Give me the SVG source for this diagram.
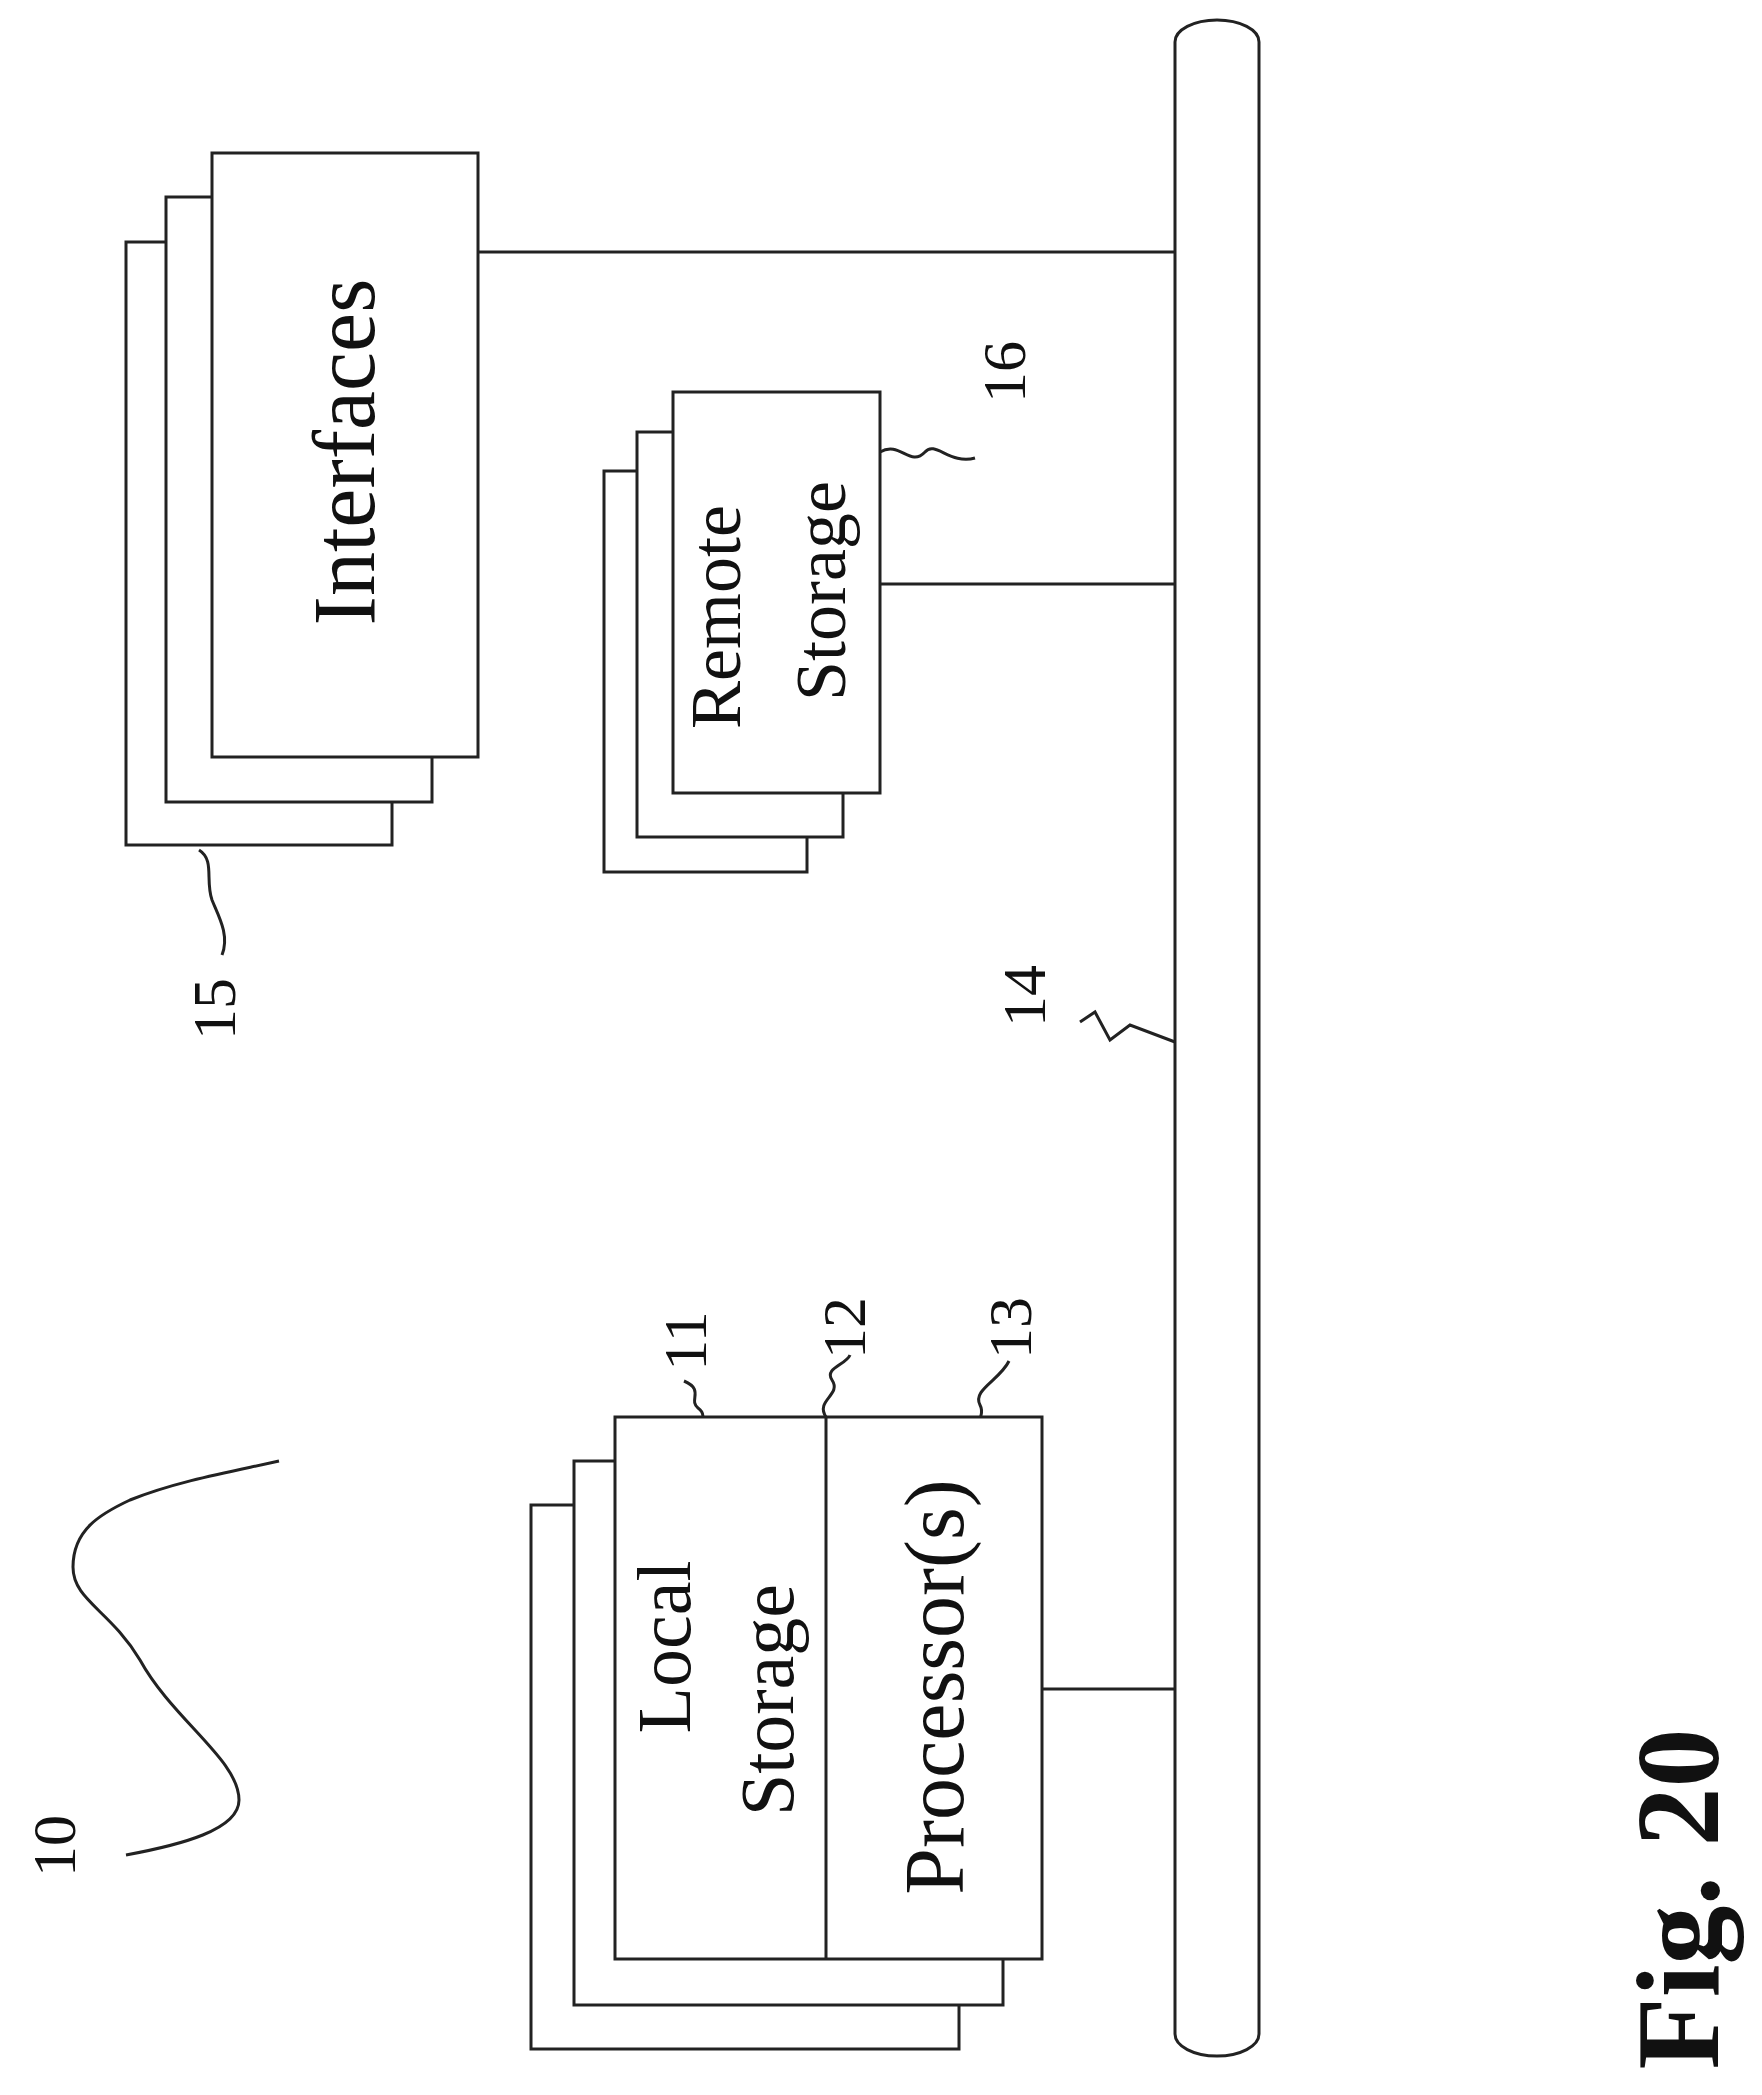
<svg xmlns="http://www.w3.org/2000/svg" width="1762" height="2095" viewBox="0 0 1762 2095">
<style>
.b{fill:#fff;stroke:#222;stroke-width:3}
.l{fill:none;stroke:#222;stroke-width:3}
.t{font-family:"Liberation Serif","Times New Roman",serif;fill:#111;text-anchor:middle}
</style>
<rect width="1762" height="2095" fill="#fff"/>
<g id="connectors">
<path class="l" d="M478 252H1175M880 584H1175M1042 1689H1175"/>
<path class="l" d="M126 1855C180 1845 239 1830 239 1800C239 1760 173 1720 140 1660C110 1610 73 1600 73 1567C73 1530 100 1514 130 1500C180 1480 240 1470 279 1461"/>
<path class="l" d="M199 850C215 860 205 880 212 900C218 915 230 935 222 955"/>
<path class="l" d="M1175 1042L1130 1025L1110 1040L1095 1012L1080 1022"/>
<path class="l" d="M880 452C900 440 910 468 925 452C935 440 950 465 975 458"/>
<path class="l" d="M704 1441C690 1430 712 1418 698 1408C688 1400 705 1390 684 1381"/>
<path class="l" d="M826 1417C815 1400 842 1395 832 1380C824 1368 846 1365 850 1355"/>
<path class="l" d="M976 1447C962 1435 988 1420 980 1405C972 1390 1000 1380 1009 1361"/>
</g>
<g id="bus"><rect class="b" x="1175" y="20" width="84" height="2036" rx="42" ry="22"/></g>
<g id="interfaces">
<rect class="b" x="126" y="242" width="266" height="603"/>
<rect class="b" x="166" y="197" width="266" height="605"/>
<rect class="b" x="212" y="153" width="266" height="604"/>
<text class="t" font-size="88" transform="translate(374,452) rotate(-90)">Interfaces</text>
</g>
<g id="remote">
<rect class="b" x="604" y="471" width="203" height="401"/>
<rect class="b" x="637" y="432" width="206" height="405"/>
<rect class="b" x="673" y="392" width="207" height="401"/>
<text class="t" font-size="72" transform="translate(740,617) rotate(-90)">Remote</text>
<text class="t" font-size="72" transform="translate(845,591) rotate(-90)">Storage</text>
</g>
<g id="local">
<rect class="b" x="531" y="1505" width="428" height="544"/>
<rect class="b" x="574" y="1461" width="429" height="544"/>
<rect class="b" x="615" y="1417" width="427" height="542"/>
<path class="l" d="M826 1417V1959"/>
<text class="t" font-size="76" transform="translate(690,1647) rotate(-90)">Local</text>
<text class="t" font-size="76" transform="translate(793,1700) rotate(-90)">Storage</text>
<text class="t" font-size="84" transform="translate(963,1687) rotate(-90)">Processor(s)</text>
</g>
<g id="labels">
<text class="t" font-size="62" transform="translate(75,1846) rotate(-90)">10</text>
<text class="t" font-size="62" transform="translate(235,1009) rotate(-90)">15</text>
<text class="t" font-size="62" transform="translate(1045,996) rotate(-90)">14</text>
<text class="t" font-size="62" transform="translate(1025,372) rotate(-90)">16</text>
<text class="t" font-size="62" transform="translate(706,1341) rotate(-90)">11</text>
<text class="t" font-size="62" transform="translate(865,1328) rotate(-90)">12</text>
<text class="t" font-size="62" transform="translate(1031,1328) rotate(-90)">13</text>
<text class="t" font-size="118" font-weight="bold" transform="translate(1718,1899) rotate(-90)">Fig. 20</text>
</g>
</svg>
